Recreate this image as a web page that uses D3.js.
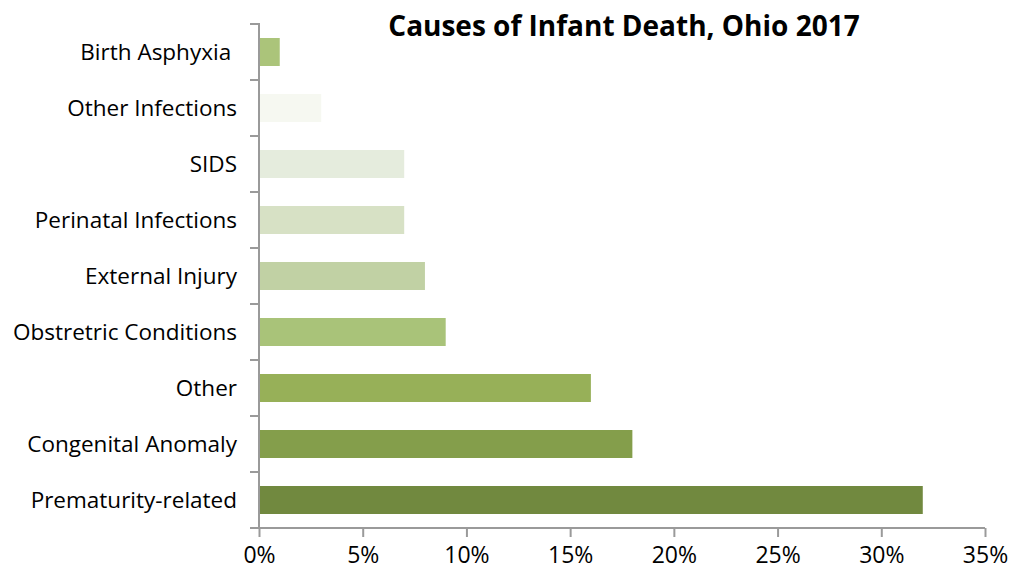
<!DOCTYPE html>
<html>
<head>
<meta charset="utf-8">
<script src="https://cdn.jsdelivr.net/npm/d3@7"></script>
<style>
  body { margin: 0; background: #fff; }
  svg { display: block; font-family: "Open Sans", "Noto Sans", sans-serif; }
</style>
</head>
<body>
<svg id="chart" width="1010" height="571"></svg>
<script>
// Causes of infant death, Ohio 2017 (share of deaths, %)
const categories = [
  "Birth Asphyxia ",
  "Other Infections",
  "SIDS",
  "Perinatal Infections",
  "External Injury",
  "Obstretric Conditions",
  "Other",
  "Congenital Anomaly",
  "Prematurity-related"
];
const values = [1, 3, 7, 7, 8, 9, 16, 18, 32];
const barColors = [
  "#abc47a", "#f6f8f1", "#e5ecdd", "#d7e1c5", "#c1d1a4",
  "#a9c379", "#97b058", "#849e4b", "#71893f"
];
const xTicks = [0, 5, 10, 15, 20, 25, 30, 35];
const title = "Causes of Infant Death, Ohio 2017";

const svg = d3.select("#chart");
const margin = { left: 259, right: 25, top: 24, bottom: 43 };
const W = 1010, H = 571;

const x = d3.scaleLinear().domain([0, 35]).range([margin.left, W - margin.right]);
const y = d3.scaleBand().domain(categories).range([margin.top, H - margin.bottom]).paddingInner(0.5).paddingOuter(0.25);

// bars
svg.append("g").selectAll("rect")
  .data(categories)
  .join("rect")
  .attr("x", x(0))
  .attr("y", d => y(d))
  .attr("width", (d, i) => x(values[i]) - x(0))
  .attr("height", y.bandwidth())
  .attr("fill", (d, i) => barColors[i]);

const axisColor = "#9a9a9a";

// category axis: ticks sit on the boundaries between bands
const yAxis = svg.append("g");
const step = y.step();
const bounds = d3.range(categories.length + 1).map(i => margin.top + i * step);
yAxis.selectAll("line.tick")
  .data(bounds)
  .join("line")
  .attr("x1", x(0) - 9).attr("x2", x(0))
  .attr("y1", d => d).attr("y2", d => d)
  .attr("stroke", axisColor).attr("stroke-width", 2);
yAxis.append("line")
  .attr("x1", x(0)).attr("x2", x(0))
  .attr("y1", margin.top - 1).attr("y2", H - margin.bottom + 1)
  .attr("stroke", axisColor).attr("stroke-width", 2);
yAxis.selectAll("text")
  .data(categories)
  .join("text")
  .attr("x", x(0) - 22)
  .attr("y", d => y(d) + y.bandwidth() / 2)
  .attr("dy", "0.35em")
  .attr("text-anchor", "end")
  .style("white-space", "pre")
  .attr("font-size", 22.5)
  .attr("fill", "#000")
  .text(d => d);

// value axis
const xAxis = d3.axisBottom(x)
  .tickValues(xTicks)
  .tickSize(9)
  .tickPadding(10)
  .tickFormat(d => d + "%");
const gx = svg.append("g")
  .attr("transform", `translate(0,${H - margin.bottom})`)
  .call(xAxis);
gx.select(".domain").attr("stroke", axisColor).attr("stroke-width", 2)
  .attr("d", `M${x(0) - 9},0H${x(35)}`);
gx.selectAll(".tick line").attr("stroke", axisColor).attr("stroke-width", 2);
gx.selectAll(".tick text")
  .attr("font-size", 23)
  .attr("font-family", "'Open Sans', 'Noto Sans', sans-serif")
  .attr("fill", "#000");

// title
svg.append("text")
  .attr("x", 624)
  .attr("y", 36)
  .attr("text-anchor", "middle")
  .attr("font-size", 28)
  .attr("font-weight", "bold")
  .attr("fill", "#000")
  .text(title);
</script>
</body>
</html>
